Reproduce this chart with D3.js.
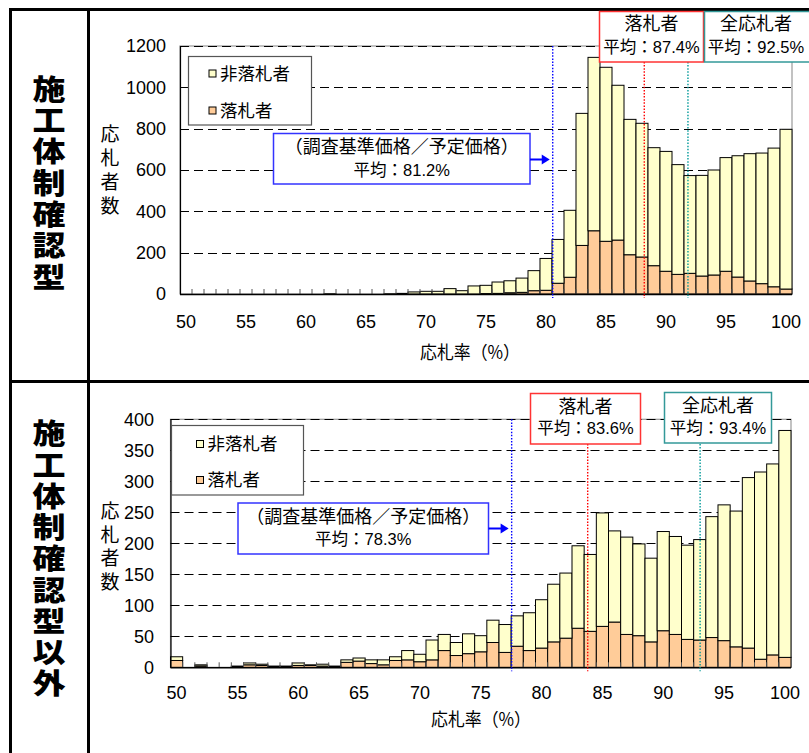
<!DOCTYPE html>
<html><head><meta charset="utf-8">
<script src="https://cdn.jsdelivr.net/npm/d3@7"></script>
<style>body{margin:0;background:#fff}svg{display:block}</style>
</head><body>
<svg id="c" width="809" height="753"></svg>
<script>
// ---------------- data ----------------
const categories = [50,51,52,53,54,55,56,57,58,59,60,61,62,63,64,65,66,67,68,69,70,71,72,73,74,75,76,77,78,79,80,81,82,83,84,85,86,87,88,89,90,91,92,93,94,95,96,97,98,99,100];
const xTickLabels = ["50","55","60","65","70","75","80","85","90","95","100"];
const seriesNames = ["非落札者","落札者"];

// 施工体制確認型
const topWinners    = [0,0,0,0,0,0,0,0,0,0, 0,0,0,0,0,0,0,0,0,0, 0,0,0,0,0,2,3,6,8,16, 18,52,81,235,306,255,261,190,179,137, 110,95,100,87,92,110,82,63,50,35, 24];
const topNonWinners = [0,0,0,0,0,0,0,0,0,0, 0,0,1,0,0,0,0,1,3,10, 13,13,26,16,39,40,55,58,69,97, 154,212,324,639,839,842,749,655,647,571, 580,531,473,487,508,550,587,616,632,671, 773];
const topYTicks = [0,200,400,600,800,1000,1200];
const topMeans = ["81.2%","87.4%","92.5%"];
const topLineAt = [81.06, 88.69, 92.33];   // where the dotted lines are drawn (axis units)

// 施工体制確認型以外
const botWinners    = [11,0,2,0,0,1,4,3,1,1, 3,3,2,1,8,10,6,4,11,12, 9,12,27,19,22,25,40,24,34,27, 31,41,47,63,58,66,73,53,51,41, 59,53,45,44,48,43,33,31,13,20, 16];
const botNonWinners = [6,0,2,0,0,1,3,2,1,1, 4,1,3,1,4,5,6,8,6,15, 12,32,26,21,32,26,36,45,49,61, 78,93,105,133,124,183,147,157,148,135, 160,158,152,162,195,219,219,275,302,308, 366];
const botYTicks = [0,50,100,150,200,250,300,350,400];
const botMeans = ["78.3%","83.6%","93.4%"];
const botLineAt = [78.04, 84.29, 93.53];

// ---------------- drawing ----------------
const svg = d3.select("#c");
const FONT = "'Liberation Sans', Arial, 'Noto Sans CJK JP', sans-serif";
const CJK = "'Noto Sans CJK JP', sans-serif";
const YELLOW = "#FFFFCC", ORANGE = "#FFCC99";

// table frame
const frame = svg.append("g").attr("stroke", "#000").attr("stroke-width", 3);
frame.append("line").attr("x1", 10).attr("x2", 809).attr("y1", 9.5).attr("y2", 9.5);
frame.append("line").attr("x1", 10.5).attr("x2", 10.5).attr("y1", 8).attr("y2", 753);
frame.append("line").attr("x1", 88.5).attr("x2", 88.5).attr("y1", 8).attr("y2", 753);
frame.append("line").attr("x1", 10).attr("x2", 809).attr("y1", 381.5).attr("y2", 381.5);

// vertical (top-to-bottom) text as one run; y0 = centre of first glyph
function verticalText(parent, text, x, y0, step, size, weight, sy) {
  const n = Array.from(text).length;
  const cy = y0 + (n - 1) * step / 2;
  const spacing = step / sy - size;
  parent.append("text")
    .attr("transform", `translate(${x},${cy}) scale(1,${sy})`)
    .attr("x", 0).attr("y", spacing / 2)
    .style("writing-mode", "vertical-rl")
    .attr("text-anchor", "middle").attr("dominant-baseline", "central")
    .attr("letter-spacing", spacing)
    .attr("font-family", CJK).attr("font-weight", weight).attr("font-size", size)
    .text(text);
}
verticalText(svg, "施工体制確認型", 49, 89, 31.3, 33, 900, 0.86);
verticalText(svg, "施工体制確認型以外", 49, 433.5, 31.25, 33, 900, 0.86);

function drawChart(cfg) {
  const table = categories.map((c, i) => ({cat: c, w: cfg.winners[i], n: cfg.nonWinners[i]}));
  const stack = d3.stack().keys(["w", "n"])(table);
  const x = d3.scaleBand().domain(categories).range([cfg.x0, cfg.x1]).paddingInner(0).paddingOuter(0);
  const bw = x.bandwidth();
  const xLin = d3.scaleLinear().domain([50, 101]).range([cfg.x0, cfg.x1]);
  const y = d3.scaleLinear().domain([0, d3.max(cfg.yTicks)]).range([cfg.y1, cfg.y0]);
  const g = svg.append("g");

  // plot border
  g.append("rect").attr("x", cfg.x0).attr("y", cfg.y0).attr("width", cfg.x1 - cfg.x0).attr("height", cfg.y1 - cfg.y0)
    .attr("fill", "#fff").attr("stroke", "#999").attr("stroke-width", 1.2);
  // gridlines
  g.selectAll(".grid").data(cfg.yTicks.filter(t => t > 0)).join("line")
    .attr("x1", cfg.x0).attr("x2", cfg.x1)
    .attr("y1", d => Math.round(y(d)) + 0.5).attr("y2", d => Math.round(y(d)) + 0.5)
    .attr("stroke", "#000").attr("stroke-width", 1).attr("stroke-dasharray", "9,5");

  // bars
  const colors = {w: ORANGE, n: YELLOW};
  stack.forEach(layer => {
    g.append("g").selectAll("rect").data(layer.filter(d => d[1] - d[0] > 0)).join("rect")
      .attr("x", d => x(d.data.cat)).attr("width", bw)
      .attr("y", d => y(d[1])).attr("height", d => y(d[0]) - y(d[1]))
      .attr("fill", colors[layer.key]).attr("stroke", "#000").attr("stroke-width", 1);
  });

  // x tick marks (inside) at category boundaries
  g.selectAll(".xt").data(categories.slice(1)).join("line")
    .attr("x1", d => x(d)).attr("x2", d => x(d))
    .attr("y1", cfg.y1).attr("y2", cfg.y1 - 5)
    .attr("stroke", "#555").attr("stroke-width", 1);
  // axes lines
  g.append("line").attr("x1", cfg.x0).attr("x2", cfg.x1).attr("y1", cfg.y1 + 0.5).attr("y2", cfg.y1 + 0.5).attr("stroke", "#000").attr("stroke-width", 1.5);
  g.append("line").attr("x1", cfg.x0 + 0.5).attr("x2", cfg.x0 + 0.5).attr("y1", cfg.y0).attr("y2", cfg.y1).attr("stroke", "#000").attr("stroke-width", 1.2);

  // y tick labels
  g.selectAll(".yl").data(cfg.yTicks).join("text")
    .attr("x", cfg.yLabelX).attr("y", d => y(d)).attr("dy", "0.36em")
    .attr("text-anchor", "end").attr("font-family", FONT).attr("font-size", 18)
    .text(d => d);
  // x tick labels
  g.selectAll(".xl").data(xTickLabels).join("text")
    .attr("x", d => x(+d) + bw / 2).attr("y", cfg.xLabelY).attr("dy", "0.36em")
    .attr("text-anchor", "middle").attr("font-family", FONT).attr("font-size", 18)
    .text(d => d);
  // x axis title
  g.append("text").attr("x", cfg.xTitleX).attr("y", cfg.xTitleY).attr("dy", "0.36em")
    .attr("text-anchor", "middle").attr("font-family", CJK).attr("font-size", 18)
    .attr("textLength", 100).attr("lengthAdjust", "spacingAndGlyphs")
    .text("応札率（%）");
  // y axis title (vertical)
  verticalText(g, "応札者数", 110, cfg.yTitleY0, cfg.yTitleStep, 19, 400, 1);

  // dotted reference lines
  const refColors = ["#0000FF", "#FF0000", "#009999"];
  cfg.lineAt.forEach((v, i) => {
    g.append("line").attr("x1", xLin(v)).attr("x2", xLin(v))
      .attr("y1", i === 0 ? cfg.y0 : cfg.boxBottom).attr("y2", cfg.y1 + 4)
      .attr("stroke", refColors[i]).attr("stroke-width", 1.4).attr("stroke-dasharray", "1.5,1.6");
  });

  // annotation boxes: [x0, y0, x1, y1, line1 dy, line2 dy, optional text centre x]
  function box(b, color, l1, l2) {
    g.append("rect").attr("x", b[0]).attr("y", b[1]).attr("width", b[2] - b[0]).attr("height", b[3] - b[1])
      .attr("fill", "#fff").attr("stroke", color).attr("stroke-width", 1.5);
    const cx = b[6] !== undefined ? b[6] : (b[0] + b[2]) / 2;
    g.append("text").attr("x", cx).attr("y", b[1] + b[4]).attr("dy", "0.36em").attr("text-anchor", "middle")
      .attr("font-family", FONT).attr("font-size", 18).text(l1);
    g.append("text").attr("x", cx).attr("y", b[1] + b[5]).attr("dy", "0.36em").attr("text-anchor", "middle")
      .attr("font-family", FONT).attr("font-size", 16.5).text(l2);
  }
  box(cfg.blueBox, "#3333FF", "（調査基準価格／予定価格）", "平均：" + cfg.means[0]);
  box(cfg.redBox, "#FF3333", "落札者", "平均：" + cfg.means[1]);
  box(cfg.tealBox, "#339999", "全応札者", "平均：" + cfg.means[2]);

  // arrow from blue box to blue line
  const ax0 = cfg.blueBox[2], ax1 = xLin(cfg.lineAt[0]) - 3, ay = cfg.arrowY;
  g.append("line").attr("x1", ax0).attr("x2", ax1 - 6).attr("y1", ay).attr("y2", ay).attr("stroke", "#0000FF").attr("stroke-width", 2);
  g.append("path").attr("d", `M${ax1},${ay} L${ax1 - 8},${ay - 5} L${ax1 - 8},${ay + 5} Z`).attr("fill", "#0000FF");

  // legend
  const L = cfg.legend;
  g.append("rect").attr("x", L[0]).attr("y", L[1]).attr("width", L[2] - L[0]).attr("height", L[3] - L[1])
    .attr("fill", "#fff").attr("stroke", "#555").attr("stroke-width", 1.2);
  [[seriesNames[0], YELLOW, L[4]], [seriesNames[1], ORANGE, L[5]]].forEach(([name, col, ly]) => {
    g.append("rect").attr("x", L[6]).attr("y", ly - 3.5).attr("width", 7).attr("height", 7)
      .attr("fill", col).attr("stroke", "#000").attr("stroke-width", 1);
    g.append("text").attr("x", L[6] + 11).attr("y", ly).attr("dy", "0.36em")
      .attr("font-family", CJK).attr("font-size", 17.5).text(name);
  });
}

drawChart({
  winners: topWinners, nonWinners: topNonWinners, yTicks: topYTicks, means: topMeans, lineAt: topLineAt,
  x0: 180, x1: 792, y0: 46, y1: 294,
  yLabelX: 166, xLabelY: 322, xTitleX: 470, xTitleY: 353, yTitleY0: 134, yTitleStep: 24,
  boxBottom: 62,
  blueBox: [273.5, 133.5, 530, 184, 13.5, 37],
  redBox: [599.5, 11.5, 703.5, 62, 12, 35.5],
  tealBox: [704.5, 11.5, 812, 62, 12, 35.5, 756],
  arrowY: 159.5,
  legend: [188.5, 56.5, 311.5, 125, 73.5, 110.5, 209]
});

drawChart({
  winners: botWinners, nonWinners: botNonWinners, yTicks: botYTicks, means: botMeans, lineAt: botLineAt,
  x0: 170.5, x1: 791, y0: 419.3, y1: 667.3,
  yLabelX: 154, xLabelY: 693, xTitleX: 481, xTitleY: 720, yTitleY0: 511, yTitleStep: 23.5,
  boxBottom: 444,
  blueBox: [238, 503, 488.5, 554, 14, 36],
  redBox: [530.5, 393.5, 640.5, 444, 13, 35],
  tealBox: [664.5, 392.5, 771.5, 443, 13.5, 35.5],
  arrowY: 528.5,
  legend: [171.5, 425.5, 303.5, 495, 444, 480, 196.5]
});
</script>
</body></html>
